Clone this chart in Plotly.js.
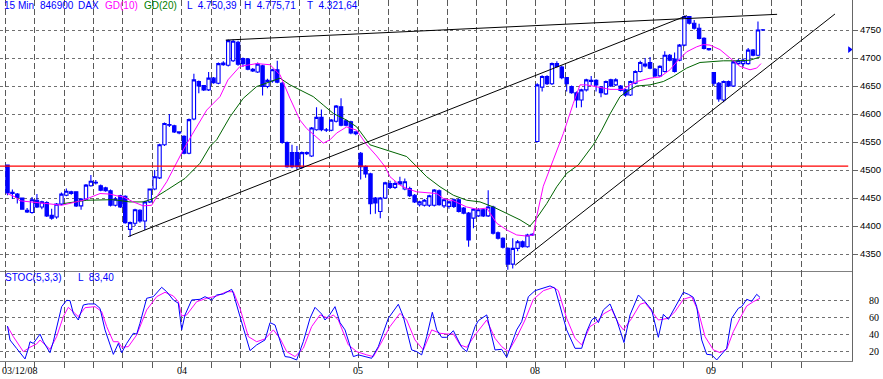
<!DOCTYPE html>
<html><head><meta charset="utf-8">
<script src="https://cdn.plot.ly/plotly-3.0.1.min.js"></script>
<style>html,body{margin:0;padding:0;background:#fff;overflow:hidden}#chart{width:883px;height:379px}</style>
</head><body><div id="chart"></div>
<script>
// ---- 15-minute DAX bars (03/12/08 .. 09/12/08), 36 bars per day ----
const open = [
4509,4460,4457,4450,4428,4424,4446,4434,4442,4419,4416,4439,4455,4461,4461,4436,4448,4472,4478,4472,4468,4463,4437,4454,4453,4394,4405,4428,4409,4443,4466,4486,4545,4581,4579,4568,
4560,4530,4591,4658,4651,4643,4664,4655,4688,4687,4695,4728,4699,4698,4680,4675,4686,4649,4659,4679,4655,4549,4531,4531,4505,4529,4525,4572,4594,4571,4571,4587,4613,4588,4586,4568,
4530,4506,4493,4450,4426,4450,4476,4469,4479,4466,4467,4455,4438,4437,4437,4437,4463,4436,4435,4447,4447,4432,4423,4414,4418,4429,4418,4434,4388,4378,4360,4332,4360,4372,4363,4384,
4551,4648,4667,4654,4690,4684,4665,4649,4638,4625,4643,4658,4660,4648,4636,4661,4652,4650,4643,4634,4655,4676,4686,4692,4680,4668,4676,4705,4698,4696,4723,4774,4762,4753,4735,4717,
4674,4655,4625,4658,4650,4690,4690,4690,4714,4705,4750];
const close = [
4459,4458,4451,4430,4425,4447,4434,4443,4418,4414,4439,4457,4462,4458,4436,4448,4473,4480,4477,4464,4463,4437,4448,4434,4406,4406,4429,4409,4443,4466,4488,4545,4583,4580,4568,4566,
4530,4590,4661,4650,4643,4664,4656,4690,4691,4731,4730,4689,4690,4680,4677,4689,4649,4660,4679,4657,4549,4506,4506,4506,4531,4531,4575,4594,4572,4572,4589,4614,4580,4580,4566,4565,
4506,4493,4440,4441,4450,4477,4469,4476,4475,4479,4454,4443,4443,4446,4454,4464,4438,4447,4443,4435,4426,4423,4375,4430,4429,4418,4434,4387,4378,4362,4332,4360,4372,4363,4384,4385,
4652,4667,4654,4690,4685,4665,4654,4638,4625,4643,4661,4660,4652,4638,4658,4650,4661,4642,4634,4658,4676,4692,4689,4682,4668,4685,4705,4696,4676,4723,4774,4762,4753,4735,4717,4715,
4655,4627,4658,4650,4693,4695,4696,4714,4705,4750,4750.4];
const high = [
4510,4465,4459,4451,4432,4452,4457,4445,4444,4431,4441,4460,4467,4463,4462,4450,4475,4491,4482,4474,4470,4465,4452,4456,4455,4408,4431,4430,4445,4467,4500,4547,4585,4600,4581,4569,
4562,4592,4672,4660,4652,4675,4666,4692,4694,4733,4733,4731,4701,4700,4682,4692,4688,4663,4681,4695,4657,4551,4545,4543,4533,4533,4577,4612,4608,4575,4591,4616,4628,4590,4588,4569,
4532,4508,4495,4452,4452,4479,4481,4480,4488,4485,4470,4457,4445,4448,4456,4466,4465,4449,4445,4449,4449,4434,4425,4432,4432,4431,4464,4436,4390,4380,4362,4378,4375,4374,4386,4387,
4655,4669,4669,4692,4694,4686,4666,4651,4640,4645,4663,4668,4662,4650,4660,4663,4664,4652,4645,4660,4678,4695,4700,4702,4682,4687,4712,4707,4710,4725,4776,4775,4768,4761,4737,4718,
4675,4657,4660,4660,4696,4698,4699,4718,4716,4765,4752];
const low = [
4455,4448,4440,4429,4423,4422,4432,4430,4416,4411,4413,4437,4453,4456,4434,4429,4446,4470,4474,4462,4461,4435,4435,4432,4404,4381,4400,4406,4393,4441,4464,4484,4543,4577,4566,4564,
4528,4528,4589,4637,4641,4641,4654,4653,4686,4685,4693,4686,4684,4678,4675,4673,4633,4646,4656,4655,4547,4504,4503,4501,4502,4527,4523,4570,4569,4568,4569,4585,4578,4578,4564,4562,
4483,4486,4421,4422,4414,4448,4466,4466,4473,4464,4452,4441,4435,4435,4434,4435,4436,4432,4431,4432,4424,4421,4363,4396,4416,4416,4416,4385,4376,4360,4322,4324,4355,4361,4361,4382,
4549,4640,4652,4652,4683,4662,4640,4636,4611,4612,4640,4652,4640,4630,4634,4648,4650,4640,4631,4632,4653,4674,4683,4680,4666,4666,4674,4694,4674,4694,4721,4760,4751,4733,4715,4713,
4650,4622,4621,4648,4648,4688,4685,4688,4703,4703,4748];

// ---- moving averages (bar index, value) ----
const gd10Idx = [0,1.53,2.55,5.2,8.05,11.05,15.45,18.86,20.9,22.26,23.61,25.65,27.69,29.4,30.42,32.46,34.5,35.84,37.61,40.61,43.32,44.95,47.4,50.8,53.52,55.56,57.59,59.63,61.0,63.04,64.38,65.75,67.11,69.15,71.19,73.23,75.27,76.96,77.98,80.02,81.39,83.43,85.46,87.5,88.85,90.89,93.62,95.66,97.7,99.73,101.77,103.81,105.85,107.2,107.89,109.23,111.27,113.31,115.35,116.72,118.08,120.12,122.83,125.54,126.91,128.28,130.99,133.03,135.07,136.43,138.47,140.51,141.86,143.22,145.26,147.3,149.34,151.38,152.74,153.62];
const gd10 = [4458,4452,4445,4443,4440,4437,4446,4458,4457,4454,4452,4443,4436,4437,4452,4479,4515,4536,4563,4607,4631,4661,4685,4690,4688,4670,4628,4589,4574,4559,4548,4554,4566,4577,4571,4545,4525,4506,4488,4473,4467,4461,4459,4458,4449,4445,4434,4430,4432,4405,4393,4384,4382,4384,4417,4471,4518,4565,4619,4652,4652,4649,4644,4644,4652,4658,4664,4666,4679,4693,4711,4720,4724,4723,4715,4700,4685,4679,4682,4690];
const gd20Idx = [11.38,16.15,21.57,24.97,27.69,29.72,32.46,36.19,37.21,39.25,41.28,42.65,45.36,48.07,50.8,53.52,55.56,57.59,59.63,62.34,64.38,66.42,69.15,71.19,73.9,75.94,79.35,81.39,83.43,85.46,88.18,90.89,93.62,96.33,99.04,101.77,104.49,106.52,107.89,109.93,111.97,114.0,116.37,119.43,121.14,122.83,124.87,126.24,128.28,130.99,133.7,135.74,138.47,141.18,143.22,145.93,148.67,151.38,153.42];
const gd20 = [4440,4446,4447,4443,4443,4449,4464,4485,4494,4512,4542,4554,4595,4628,4649,4658,4664,4652,4643,4631,4616,4601,4589,4577,4545,4539,4530,4524,4506,4488,4470,4455,4446,4443,4434,4423,4411,4400,4414,4440,4470,4494,4509,4545,4571,4600,4631,4640,4650,4652,4658,4667,4682,4692,4693,4695,4695,4696,4702];

// ---- stochastic (5,3,3) ----
const stochKIdx = [0,0.51,1.87,3.23,3.57,4.25,4.59,5.27,6.63,7.31,8.66,9.34,11.04,12.06,12.74,13.42,14.44,15.46,16.48,17.84,18.86,19.88,21.58,22.6,23.28,24.3,25.66,26.34,27.01,28.37,29.73,31.43,32.45,33.81,34.83,35.51,36.19,37.55,39.25,40.27,41.63,42.65,44.0,45.7,46.04,47.4,49.44,50.8,52.5,53.52,54.54,56.58,57.6,58.95,60.31,61.67,62.69,64.05,64.73,65.75,66.77,67.79,68.81,70.51,71.53,72.89,74.24,75.6,77.64,79.68,80.7,82.4,83.42,84.44,85.46,86.61,87.5,88.52,89.54,90.9,92.6,93.62,95.32,96.0,97.7,99.39,100.75,101.77,103.81,104.83,106.19,107.55,109.25,110.61,111.63,114.0,115.7,117.06,118.08,119.1,119.78,120.46,121.48,122.84,124.2,125.69,126.92,128.62,129.97,131.33,132.69,133.71,134.73,136.09,137.79,138.81,139.83,140.51,141.53,142.55,143.57,144.59,145.6,146.62,147.64,149.0,149.68,150.7,151.72,152.74,153.42];
const stochK = [49.6,33,23,12,10.6,23,31,29,40,31,18,31,72.5,80,79.6,64.6,56.7,74.5,75.7,75.7,70.5,45,16,29,18,29,41,40,52.8,82.4,84.3,95.4,90.2,80.4,76.5,45,62.7,80.4,81.2,84.3,80.4,86.3,87.5,93,88.3,60.7,20.5,27.2,33.1,53.6,50.8,13.4,12.6,9.4,31.1,58.7,71.7,63.8,56.7,63.4,72.5,53.6,45,13.4,15.4,13.4,11.4,25.2,58.7,75.3,60.7,21.3,19.3,15.4,37,65.8,45,36.2,36.2,44,24.4,19.3,48.9,56,62.7,21.3,22,12.6,45,54.8,84.3,91.4,94.2,97,94.2,45,23.2,23.2,43,56.7,59.9,53.6,68.6,75.7,56.7,30,62.7,86.3,78.4,68.6,36.2,63.4,57.5,72.5,89.5,87.1,83.5,72.5,33.1,16.1,15.4,9.4,16.5,23.2,58.7,70.5,72.5,81.2,78.8,87.1,83.4];
const stochDIdx = [0,1.19,3.23,4.59,5.95,6.63,8.66,10.02,11.38,12.4,14.44,15.8,17.84,19.2,20.22,21.58,22.6,23.28,24.64,26.34,28.37,30.41,32.11,33.81,34.83,35.51,36.53,38.57,40.61,42.65,44.68,46.04,47.4,49.1,50.8,52.5,54.2,55.56,56.92,58.61,60.31,62.01,63.71,65.41,66.43,67.45,69.49,71.19,73.23,74.59,75.95,77.98,80.02,81.38,83.08,84.78,86.48,88.18,89.54,90.9,92.26,93.62,95.32,96.34,97.7,99.39,100.75,102.11,103.81,105.51,107.21,109.25,111.29,112.3,114.0,115.7,117.06,118.76,120.12,121.48,123.18,124.54,125.56,127.26,128.96,129.97,131.33,132.69,134.73,136.09,137.79,139.49,140.85,142.21,143.91,145.27,146.62,147.98,149.34,150.7,152.06,153.42];
const stochD = [49,37,19.3,24.4,28.4,33,22,37,60.7,71.7,60.7,71.3,72.5,66.6,48.9,31,31,24.4,25.2,39,68.6,84.3,89.5,85.1,78.4,61.5,62.7,78.4,82.4,85.1,90.2,90.2,70.5,37,31,34.3,45,35,19.3,13.4,23.2,48.9,62.7,58.7,62.7,56.7,27.2,19.3,15.4,13.4,27.2,48.9,64.6,56.7,33,21.3,45,41,40.2,40.2,27.2,24.4,39,47,56.7,35,25.2,19.3,36.2,56.7,81.2,91.4,95.4,91.4,58.7,35,27.2,48.9,54,63.8,69.4,52.8,45,58.7,75.3,77.2,66.6,56.7,58.7,66.6,81.2,84.3,66.6,37,21.3,18.1,22,43,58.7,73.3,78.4,82.4];

// ---- drawn lines ----
const trendTopIdx = [44.5, 156.9], trendTopVal = [4732, 4778];
const trendMidIdx = [24.6, 138.5], trendMidVal = [4381, 4775.7];
const trendLowIdx = [103.5, 168.7], trendLowVal = [4330, 4778.6];
const redLevel = 4507;
const markerIdx = [171.7], markerVal = [4715];

// ---- texts / ticks ----
const priceTicks = [4350,4400,4450,4500,4550,4600,4650,4700,4750];
const stochTicks = [20,40,60,80];
const dayLabels = ['03/12/08','04','05','08','09'];
const dayLabelIdx = [-1.5, 35.5, 71.5, 107.5, 143.5];
const headerItems = [
  {t:'15 Min', px:2, c:'#0000ff'}, {t:'846900', px:38, c:'#0000ff'}, {t:'DAX', px:76, c:'#0000ff'},
  {t:'GD(10)', px:103, c:'#ff00ff'}, {t:'GD(20)', px:142, c:'#008000'},
  {t:'L  4.750,39', px:185, c:'#0000ff'}, {t:'H  4.775,71', px:242, c:'#0000ff'}, {t:'T  4.321,64', px:305, c:'#0000ff'}];
const stochHeader = [{t:'STOC(5,3,3)', px:3, c:'#0000ff'}, {t:'L  83,40', px:76, c:'#0000ff'}];

const xs = open.map((_, i) => i);
const gridIdx = Array.from({length:28}, (_, k) => -0.51 + 6.014 * k);
const XR = [-1.529, 172.17];
const PW = 852;

const traces = [
  {type:'candlestick', x:xs, open, high, low, close, xaxis:'x', yaxis:'y',
   increasing:{line:{color:'#0000ff', width:1.1}, fillcolor:'#ffffff'},
   decreasing:{line:{color:'#0000ff', width:1.1}, fillcolor:'#0000ff'},
   whiskerwidth:0, hoverinfo:'skip', showlegend:false},
  {type:'scatter', mode:'lines', x:gd20Idx, y:gd20, line:{color:'#006400', width:1}, xaxis:'x', yaxis:'y', hoverinfo:'skip'},
  {type:'scatter', mode:'lines', x:gd10Idx, y:gd10, line:{color:'#ff00ff', width:1}, xaxis:'x', yaxis:'y', hoverinfo:'skip'},
  {type:'scatter', mode:'lines', x:[XR[0], 171.4], y:[redLevel, redLevel], line:{color:'#ff0000', width:1.3}, xaxis:'x', yaxis:'y', hoverinfo:'skip'},
  {type:'scatter', mode:'lines', x:trendTopIdx, y:trendTopVal, line:{color:'#000000', width:1}, xaxis:'x', yaxis:'y', hoverinfo:'skip'},
  {type:'scatter', mode:'lines', x:trendMidIdx, y:trendMidVal, line:{color:'#000000', width:1}, xaxis:'x', yaxis:'y', hoverinfo:'skip'},
  {type:'scatter', mode:'lines', x:trendLowIdx, y:trendLowVal, line:{color:'#000000', width:1}, xaxis:'x', yaxis:'y', hoverinfo:'skip'},
  {type:'scatter', mode:'markers', x:markerIdx, y:markerVal, marker:{symbol:'triangle-right', size:6, color:'#0000ff'}, xaxis:'x', yaxis:'y', hoverinfo:'skip', cliponaxis:false},
  {type:'scatter', mode:'lines', x:stochDIdx, y:stochD, line:{color:'#ff00ff', width:1}, xaxis:'x2', yaxis:'y2', hoverinfo:'skip'},
  {type:'scatter', mode:'lines', x:stochKIdx, y:stochK, line:{color:'#0000ff', width:1}, xaxis:'x2', yaxis:'y2', hoverinfo:'skip'}
];

const annotations = [];
headerItems.forEach(h => annotations.push({text:h.t, xref:'paper', yref:'paper', x:h.px/PW, y:1, xanchor:'left', yanchor:'top', yshift:2, showarrow:false, font:{family:'Liberation Sans, Arial, sans-serif', size:10, color:h.c}}));
stochHeader.forEach(h => annotations.push({text:h.t, xref:'paper', yref:'paper', x:h.px/PW, y:90/361, xanchor:'left', yanchor:'top', yshift:1, showarrow:false, font:{family:'Liberation Sans, Arial, sans-serif', size:10, color:h.c}}));
dayLabels.forEach((t, i) => annotations.push({text:t, xref:'x2', yref:'paper', x:dayLabelIdx[i], y:0, xanchor: i === 0 ? 'left' : 'center', yanchor:'top', yshift:-2, showarrow:false, font:{family:'Liberation Serif, Times New Roman, serif', size:10, color:'#000'}}));

const gridX = {tickmode:'array', tickvals:gridIdx, showticklabels:false, showgrid:true, gridcolor:'#5a5a5a', griddash:'6px,3px', gridwidth:1, zeroline:false, range:XR, fixedrange:true};

const layout = {
  width:883, height:379, margin:{l:0, r:31, t:0, b:18}, paper_bgcolor:'#fff', plot_bgcolor:'#fff',
  showlegend:false, boxgap:0.2, boxgroupgap:0.15,
  xaxis: Object.assign({}, gridX, {anchor:'y', domain:[0,1], rangeslider:{visible:false}, showline:true, linecolor:'#808080', linewidth:1, ticks:''}),
  xaxis2: Object.assign({}, gridX, {anchor:'y2', domain:[0,1], matches:'x', showline:true, linecolor:'#808080', linewidth:1, ticks:'outside', ticklen:6, tickcolor:'#5a5a5a'}),
  yaxis: {domain:[90/361, 1], range:[4319.64, 4803.57], side:'right', anchor:'x', tickmode:'array', tickvals:priceTicks, ticks:'outside', ticklen:5, tickcolor:'#666', showline:true, linecolor:'#666', showgrid:true, gridcolor:'#707070', griddash:'3px,3px', zeroline:false, fixedrange:true, tickfont:{family:'Liberation Sans, Arial, sans-serif', size:9.5, color:'#000'}},
  yaxis2: {domain:[0, 90/361], range:[8.17, 114.7], side:'right', anchor:'x2', tickmode:'array', tickvals:stochTicks, ticks:'', showline:true, linecolor:'#666', showgrid:true, gridcolor:'#707070', griddash:'3px,3px', zeroline:false, fixedrange:true, ticklabelstandoff:14, tickfont:{family:'Liberation Serif, Times New Roman, serif', size:10, color:'#000'}},
  annotations
};

Plotly.newPlot('chart', traces, layout, {displayModeBar:false, staticPlot:true});
</script></body></html>
